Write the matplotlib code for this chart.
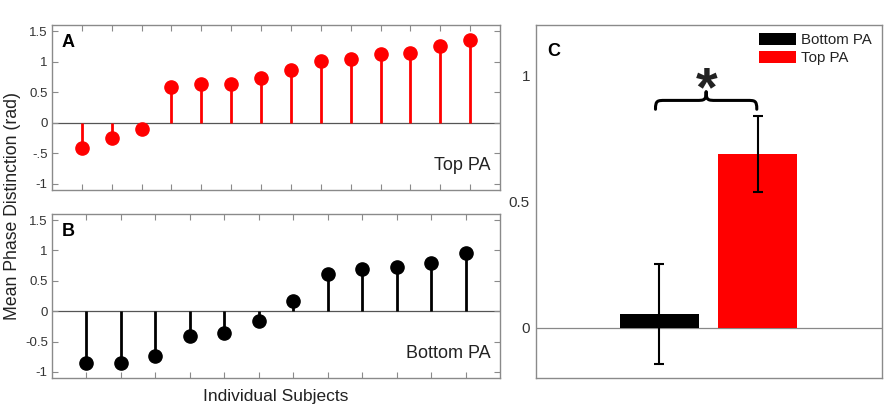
import matplotlib
matplotlib.use("Agg")
import matplotlib.pyplot as plt
from matplotlib.path import Path
from matplotlib.patches import PathPatch
import numpy as np

# ---- data ----
top_pa = [-0.41, -0.25, -0.10, 0.59, 0.63, 0.64, 0.74, 0.87, 1.01, 1.04, 1.13, 1.15, 1.26, 1.36]
bottom_pa = [-0.86, -0.85, -0.74, -0.41, -0.36, -0.16, 0.16, 0.62, 0.70, 0.72, 0.79, 0.95]
group_labels = ["Bottom PA", "Top PA"]
group_means = [0.053, 0.689]
group_errs = [0.198, 0.151]
ab_yticks = [-1, -0.5, 0, 0.5, 1, 1.5]
a_yticklabels = ["-1", "-.5", "0", "0.5", "1", "1.5"]
b_yticklabels = ["-1", "-0.5", "0", "0.5", "1", "1.5"]
c_yticks = [0, 0.5, 1]
c_yticklabels = ["0", "0.5", "1"]

plt.rcParams['font.family'] = ['Liberation Sans', 'DejaVu Sans']

W, H = 892, 413
fig = plt.figure(figsize=(W / 100, H / 100), dpi=100)

def fx(px):
    return px / W

def fy(py):
    return 1 - py / H

spine_col = "#8a8a8a"
lab_col = "#333333"
txt_col = "#222222"

def style_stem_axes(ax, n, labels):
    ax.set_xlim(0, n + 1)
    ax.set_ylim(-1.1, 1.6)
    ax.set_xticks(np.arange(1, n + 1))
    ax.set_xticklabels([])
    ax.set_yticks(ab_yticks)
    ax.set_yticklabels(labels)
    ax.tick_params(direction="in", length=4.5, width=0.8, color=spine_col,
                   top=True, right=True, labelsize=9.5, labelcolor=lab_col, pad=3)
    for s in ax.spines.values():
        s.set_color(spine_col)
        s.set_linewidth(1.0)

def stem(ax, vals, color):
    x = np.arange(1, len(vals) + 1)
    ax.axhline(0, color="#555555", lw=0.9, zorder=1)
    ax.vlines(x, 0, vals, color=color, lw=2.0, zorder=2)
    ax.plot(x, vals, "o", color=color, ms=9.5, zorder=3, mec=color)

# Panel A
axA = fig.add_axes([fx(52), fy(190), fx(500) - fx(52), fy(25) - fy(190)])
stem(axA, top_pa, "#ff0000")
style_stem_axes(axA, len(top_pa), a_yticklabels)
axA.text(0.022, 0.895, "A", transform=axA.transAxes, fontsize=13, fontweight="bold",
         va="center", ha="left")
axA.text(0.978, 0.15, "Top PA", transform=axA.transAxes, fontsize=13,
         va="center", ha="right", color=txt_col)

# Panel B
axB = fig.add_axes([fx(52), fy(378), fx(500) - fx(52), fy(214) - fy(378)])
stem(axB, bottom_pa, "#000000")
style_stem_axes(axB, len(bottom_pa), b_yticklabels)
axB.text(0.022, 0.895, "B", transform=axB.transAxes, fontsize=13, fontweight="bold",
         va="center", ha="left")
axB.text(0.978, 0.15, "Bottom PA", transform=axB.transAxes, fontsize=13,
         va="center", ha="right", color=txt_col)
axB.set_xlabel("Individual Subjects", fontsize=12.5, color=txt_col, labelpad=5)

fig.text(fx(13), fy(206), "Mean Phase Distinction (rad)", rotation=90,
         ha="center", va="center", fontsize=12.7, color=txt_col)

# Panel C
axC = fig.add_axes([fx(535.5), fy(378), fx(881.7) - fx(535.5), fy(24.7) - fy(378)])
xpos = np.arange(1, len(group_means) + 1)
colors = ["#000000", "#ff0000"]
bars = axC.bar(xpos, group_means, width=0.8, color=colors, zorder=2,
               label=group_labels)
axC.errorbar(xpos, group_means, yerr=group_errs, fmt="none", ecolor="black",
             elinewidth=1.5, capsize=3.5, capthick=1.5, zorder=3)
axC.axhline(0, color="#888888", lw=0.9, zorder=1)
axC.set_xlim(-0.26, 3.26)
axC.set_ylim(-0.2, 1.2)
axC.set_xticks([])
axC.set_yticks(c_yticks)
axC.set_yticklabels(c_yticklabels)
axC.tick_params(axis="y", length=0, labelsize=11, labelcolor=lab_col, pad=4)
for s in axC.spines.values():
    s.set_color(spine_col)
    s.set_linewidth(1.0)
axC.text(0.035, 0.925, "C", transform=axC.transAxes, fontsize=13, fontweight="bold",
         va="center", ha="left")

leg = axC.legend(handles=list(bars), labels=group_labels, loc="upper right",
                 bbox_to_anchor=(0.995, 1.0), frameon=False, fontsize=10.8,
                 handlelength=2.47, handleheight=0.89, handletextpad=0.33,
                 labelspacing=0.22, borderaxespad=0.25, borderpad=0.3)
for t in leg.get_texts():
    t.set_color(txt_col)

# significance brace between the two bars
x0 = xpos[0] - 0.04
x1 = xpos[1] - 0.01
xm = (x0 + x1) / 2
y0 = 0.865
ym = 0.90
yt = 0.935
d = 0.1
verts = [(x0, y0), (x0, ym), (x0 + 0.02, ym), (x0 + d, ym),
         (xm - d, ym),
         (xm - 0.02, ym), (xm, ym), (xm, yt),
         (xm, ym), (xm + 0.02, ym), (xm + d, ym),
         (x1 - d, ym),
         (x1 - 0.02, ym), (x1, ym), (x1, y0)]
codes = [Path.MOVETO, Path.CURVE4, Path.CURVE4, Path.CURVE4,
         Path.LINETO,
         Path.CURVE4, Path.CURVE4, Path.CURVE4,
         Path.CURVE4, Path.CURVE4, Path.CURVE4,
         Path.LINETO,
         Path.CURVE4, Path.CURVE4, Path.CURVE4]
axC.add_patch(PathPatch(Path(verts, codes), fill=False, lw=2.2, color="black",
                        capstyle="round", joinstyle="round", zorder=4))
axC.text(xm, 0.935, "*", ha="center", va="center", fontsize=40,
         fontweight="bold", color=txt_col)

fig.savefig("out.png", dpi=100)
